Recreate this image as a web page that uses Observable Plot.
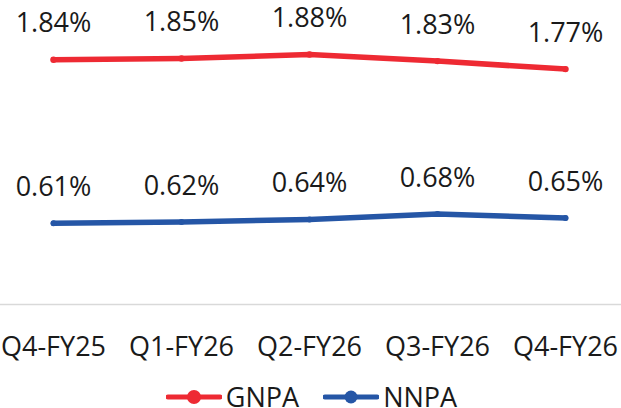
<!DOCTYPE html>
<html>
<head>
<meta charset="utf-8">
<script src="https://cdn.jsdelivr.net/npm/d3@7"></script>
<script src="https://cdn.jsdelivr.net/npm/@observablehq/plot@0.6"></script>
<style>
  html, body { margin: 0; padding: 0; background: #fff; overflow: hidden; }
  body { width: 621px; height: 408px; font-family: "Open Sans", sans-serif; color: #1a1a1a; }
  #legend { display: flex; justify-content: center; align-items: center; height: 36px; line-height: 36px; font-size: 27px; gap: 24px; margin-left: 2px; margin-top: 1px; }
  .item { display: flex; align-items: center; gap: 4px; }
</style>
</head>
<body>
<div id="chart"></div>
<div id="legend"></div>
<script>
const quarters = ["Q4-FY25", "Q1-FY26", "Q2-FY26", "Q3-FY26", "Q4-FY26"];
const gnpa = [1.84, 1.85, 1.88, 1.83, 1.77];
const nnpa = [0.61, 0.62, 0.64, 0.68, 0.65];
const seriesNames = ["GNPA", "NNPA"];
const seriesColors = ["#ee2a33", "#2556a6"];

const data = [
  ...quarters.map((q, i) => ({ quarter: q, value: gnpa[i], series: "GNPA" })),
  ...quarters.map((q, i) => ({ quarter: q, value: nnpa[i], series: "NNPA" }))
];

const chart = Plot.plot({
  width: 621,
  height: 378,
  marginLeft: 0,
  marginRight: 0,
  marginTop: 38,
  marginBottom: 74,
  style: { fontFamily: "Open Sans", fontSize: "27px", color: "#1a1a1a", background: "#fff", overflow: "visible" },
  x: { type: "point", domain: quarters, range: [52, 566], padding: 0, label: null },
  y: { domain: [0, 2], axis: null },
  color: { domain: seriesNames, range: seriesColors },
  marks: [
    Plot.ruleY([0], { stroke: "#d9d9d9", strokeWidth: 1.5 }),
    Plot.axisX({ tickSize: 0, tickPadding: 32, label: null, fontSize: 27 }),
    Plot.line(data, { x: "quarter", y: "value", z: "series", stroke: "series", strokeWidth: 5.5 }),
    Plot.dot(data, { x: "quarter", y: "value", fill: "series", r: d => d.series === "GNPA" ? 8 : 7, stroke: null }),
    Plot.text(data, { x: "quarter", y: "value", text: d => d.value.toFixed(2) + "%", dy: -36, fill: "#1a1a1a", fontSize: 27 })
  ]
});
document.getElementById("chart").appendChild(chart);

const legend = document.getElementById("legend");
seriesNames.forEach((name, i) => {
  const item = document.createElement("div");
  item.className = "item";
  const r = i === 0 ? 7 : 6.5;
  item.innerHTML = `<svg width="56" height="16"><line x1="2" x2="54" y1="8" y2="8" stroke="${seriesColors[i]}" stroke-width="5" stroke-linecap="round"/><circle cx="28" cy="8" r="${r}" fill="${seriesColors[i]}"/></svg><span>${name}</span>`;
  legend.appendChild(item);
});
</script>
</body>
</html>
